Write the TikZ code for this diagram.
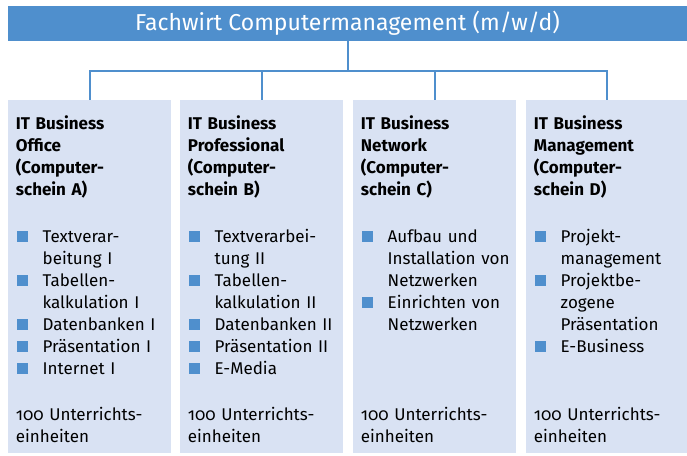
\documentclass[tikz,border=0pt]{standalone}
\usepackage{fontspec}
\setmainfont[Numbers=OldStyle]{Fira Sans}
\definecolor{barblue}{RGB}{79,143,205}
\definecolor{boxfill}{RGB}{217,226,243}
\newcommand\bul{\makebox[25.5pt][l]{\textcolor{barblue}{\raisebox{0.5pt}{\rule{11pt}{11pt}}}}}
\newcommand\ind{\hspace*{25.5pt}}
\tikzset{
  titlebar/.style={fill=barblue, text=white, minimum width=679pt, minimum height=35pt, inner sep=0pt,
    font=\fontsize{23}{27}\selectfont},
  colbox/.style={fill=boxfill, minimum width=163pt, minimum height=353pt, inner sep=0pt},
  conn/.style={draw=barblue, line width=2pt},
  txt/.style={inner sep=0pt, align=left, text width=170pt, anchor=base west,
    font=\fontsize{17}{22}\selectfont}
}
\begin{document}
\begin{tikzpicture}[x=1pt,y=-1pt]
\useasboundingbox (0,0) rectangle (687,455);
\node[titlebar] (title) at (347.5,23.5) {Fachwirt Computermanagement (m/w/d)};
\node[colbox] (b1) at (89.5,276.5) {};
\node[colbox] (b2) at (261.5,276.5) {};
\node[colbox] (b3) at (434.5,276.5) {};
\node[colbox, minimum width=162pt] (b4) at (607,276.5) {};
\path (title.south) ++(0,30) coordinate (hub);
\draw[conn] (title.south) -- (hub);
\draw[conn] (hub) -| (b1.north);
\draw[conn] (hub) -| (b2.north);
\draw[conn] (hub) -| (b3.north);
\draw[conn] (hub) -| (b4.north);
% box 1
\node[txt] (h1) at (15.7,129) {\textbf{IT Business}\\\textbf{Office}\\\textbf{(Computer-}\\\textbf{schein A)}};
\node[txt] (l1) at (17,242) {\bul Textverar-\\\ind beitung I\\\bul Tabellen-\\\ind kalkulation I\\\bul Datenbanken I\\\bul Präsentation I\\\bul Internet I};
\node[txt] (f1) at (15.7,420) {100 Unterrichts-\\einheiten};
% box 2
\node[txt] (h2) at (187.7,129) {\textbf{IT Business}\\\textbf{Professional}\\\textbf{(Computer-}\\\textbf{schein B)}};
\node[txt] (l2) at (189,242) {\bul Textverarbei-\\\ind tung II\\\bul Tabellen-\\\ind kalkulation II\\\bul Datenbanken II\\\bul Präsentation II\\\bul E-Media};
\node[txt] (f2) at (187.7,420) {100 Unterrichts-\\einheiten};
% box 3
\node[txt] (h3) at (360.7,129) {\textbf{IT Business}\\\textbf{Network}\\\textbf{(Computer-}\\\textbf{schein C)}};
\node[txt] (l3) at (362,242) {\bul Aufbau und\\\ind Installation von\\\ind Netzwerken\\\bul Einrichten von\\\ind Netzwerken};
\node[txt] (f3) at (360.7,420) {100 Unterrichts-\\einheiten};
% box 4
\node[txt] (h4) at (533.7,129) {\textbf{IT Business}\\\textbf{Management}\\\textbf{(Computer-}\\\textbf{schein D)}};
\node[txt] (l4) at (535,242) {\bul Projekt-\\\ind management\\\bul Projektbe-\\\ind zogene\\\ind Präsentation\\\bul E-Business};
\node[txt] (f4) at (533.7,420) {100 Unterrichts-\\einheiten};
\end{tikzpicture}
\end{document}
